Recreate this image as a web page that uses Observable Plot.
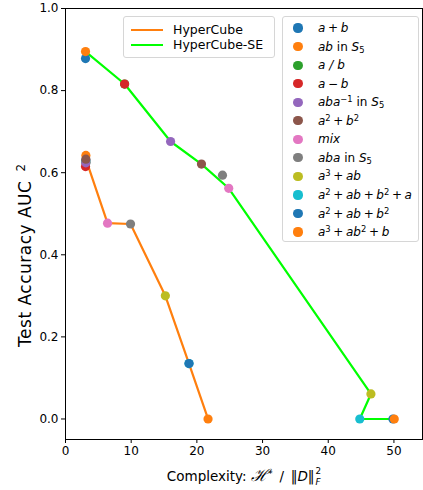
<!DOCTYPE html>
<html><head><meta charset="utf-8">
<script src="https://cdn.jsdelivr.net/npm/d3@7"></script>
<script src="https://cdn.jsdelivr.net/npm/@observablehq/plot@0.6"></script>
<style>
body{margin:0;background:#fff;font-family:"DejaVu Sans",sans-serif;color:#000}
#wrap{position:relative;width:423px;height:490px;overflow:hidden}
#wrap svg{position:absolute;left:0;top:0}
.leg{position:absolute;background:rgba(255,255,255,0.85);border:1px solid #d6d6d6;border-radius:3px;box-sizing:border-box}
.row{position:absolute;left:0;white-space:nowrap;font-size:12px;line-height:12px}
.sw{position:absolute}
.txt{position:absolute;transform:translateY(-50%)}
sup{font-size:70%;vertical-align:0.45em;line-height:0}
sub{font-size:70%;vertical-align:-0.25em;line-height:0}
.sp{display:inline-block;width:0.22em}
.lbl{position:absolute;white-space:nowrap;line-height:1.2}
.ss{display:inline-flex;flex-direction:column;vertical-align:middle;font-size:65%;line-height:1.15;gap:1px;margin-left:1px;position:relative;top:-0.1em}
</style>
</head><body>
<div id="wrap"></div>
<script>
// ---- data ----
const S = '<span class="sp"></span>';
const taskLabels = [
  `<i>a</i>${S}+${S}<i>b</i>`,
  `<i>ab</i> in <i>S</i><sub>5</sub>`,
  `<i>a</i>&#8196;<i>/</i>&#8196;<i>b</i>`,
  `<i>a</i>${S}−${S}<i>b</i>`,
  `<i>aba</i><sup>−1</sup> in <i>S</i><sub>5</sub>`,
  `<i>a</i><sup>2</sup>${S}+${S}<i>b</i><sup>2</sup>`,
  `<i>mix</i>`,
  `<i>aba</i> in <i>S</i><sub>5</sub>`,
  `<i>a</i><sup>3</sup>${S}+${S}<i>ab</i>`,
  `<i>a</i><sup>2</sup>${S}+${S}<i>ab</i>${S}+${S}<i>b</i><sup>2</sup>${S}+${S}<i>a</i>`,
  `<i>a</i><sup>2</sup>${S}+${S}<i>ab</i>${S}+${S}<i>b</i><sup>2</sup>`,
  `<i>a</i><sup>3</sup>${S}+${S}<i>ab</i><sup>2</sup>${S}+${S}<i>b</i>`
];
const taskColors = ["#1f77b4","#ff7f0e","#2ca02c","#d62728","#9467bd","#8c564b","#e377c2","#7f7f7f","#bcbd22","#17becf","#1f77b4","#ff7f0e"];

// HyperCube (complexity, AUC) per task
const hcX = [3.1, 3.1, 3.1, 3.05, 3.1, 3.1, 6.4, 9.9, 15.2, 18.8, 18.8, 21.7];
const hcY = [0.63, 0.642, 0.625, 0.615, 0.624, 0.633, 0.477, 0.475, 0.300, 0.135, 0.135, 0.0];
// HyperCube-SE
const seX = [3.05, 3.05, 9.0, 9.0, 16.0, 20.7, 24.85, 23.9, 46.5, 44.8, 49.85, 50.05];
const seY = [0.878, 0.895, 0.816, 0.816, 0.676, 0.621, 0.562, 0.594, 0.061, 0.0, 0.0, 0.0];
// order of tasks along each method's line
const hcLineOrder = [0,1,2,3,4,5,6,7,8,9,10,11];
const seLineOrder = [0,1,2,3,4,5,6,8,9,10,11];

const methods = ["HyperCube", "HyperCube-SE"];
const methodColors = ["#ff7f0e", "#00ff00"];

const xTicks = [0,10,20,30,40,50];
const yTicks = [0,0.2,0.4,0.6,0.8,1.0];

// ---- build tables ----
const pts = [];
taskLabels.forEach((t,i)=>{
  pts.push({task:i, method:0, x:hcX[i], y:hcY[i], c:taskColors[i]});
  pts.push({task:i, method:1, x:seX[i], y:seY[i], c:taskColors[i]});
});
const hcLine = hcLineOrder.map(i=>({x:hcX[i], y:hcY[i]}));
const seLine = seLineOrder.map(i=>({x:seX[i], y:seY[i]}));

const W=423, H=490;
const chart = Plot.plot({
  width: W, height: H,
  marginLeft: 65, marginRight: 1, marginTop: 8, marginBottom: 51,
  style: {fontFamily: "DejaVu Sans, sans-serif", fontSize: "12px", background: "white", color: "black"},
  x: {domain: [0, 54.35], label: null},
  y: {domain: [-0.05, 1.0], label: null},
  marks: [
    Plot.line(hcLine, {x:"x", y:"y", stroke: methodColors[0], strokeWidth: 2.2, curve:"linear"}),
    Plot.line(seLine, {x:"x", y:"y", stroke: methodColors[1], strokeWidth: 2.2, curve:"linear"}),
    Plot.dot(pts, {x:"x", y:"y", fill:"c", r:4.6, stroke:null}),
    Plot.frame({stroke:"black", strokeWidth:1}),
    Plot.axisX({ticks:xTicks, tickSize:4, tickPadding:3, tickFormat:d3.format("d"), label:null, fontSize:12}),
    Plot.axisY({ticks:yTicks, tickSize:4, tickPadding:3, tickFormat:d3.format(".1f"), label:null, fontSize:12})
  ]
});
const wrap = document.getElementById("wrap");
wrap.appendChild(chart);

// ---- method legend ----
const leg1 = document.createElement("div");
leg1.className = "leg";
Object.assign(leg1.style, {left:"123px", top:"16px", width:"152px", height:"42px"});
methods.forEach((m,i)=>{
  const cy = 13 + i*15;
  const sw = document.createElement("div");
  sw.className="sw";
  Object.assign(sw.style,{left:"7px", top:(cy-1)+"px", width:"32px", height:"2px", background:methodColors[i]});
  leg1.appendChild(sw);
  const t = document.createElement("div");
  t.className="row txt";
  t.style.left="49px"; t.style.top=cy+"px"; t.style.fontSize="12.5px"; t.style.lineHeight="14px";
  t.textContent = m;
  leg1.appendChild(t);
});
wrap.appendChild(leg1);

// ---- task legend ----
const leg2 = document.createElement("div");
leg2.className = "leg";
Object.assign(leg2.style, {left:"282px", top:"16px", width:"137px", height:"226px"});
taskLabels.forEach((lab,i)=>{
  const cy = 11 + i*18.55;
  const sw = document.createElement("div");
  sw.className="sw";
  Object.assign(sw.style,{left:(15-4.6)+"px", top:(cy-4.6)+"px", width:"9.2px", height:"9.2px", borderRadius:"50%", background:taskColors[i]});
  leg2.appendChild(sw);
  const t = document.createElement("div");
  t.className="row txt";
  t.style.left="35px"; t.style.top=cy+"px"; t.style.lineHeight="14px";
  t.innerHTML = lab;
  leg2.appendChild(t);
});
wrap.appendChild(leg2);

// ---- axis labels ----
const xl = document.createElement("div");
xl.className="lbl";
xl.style.fontSize = "13.5px";
xl.innerHTML = 'Complexity: <span style="font-family:\'DejaVu Serif\',serif;font-style:italic;font-size:122%">ℋ</span><sup>*</sup>&#8194;/&#8194;‖<i>D</i>‖<span class="ss"><span>2</span><span><i>F</i></span></span>';
wrap.appendChild(xl);
const xr = xl.getBoundingClientRect();
xl.style.left = (244 - xr.width/2)+"px";
xl.style.top = (477 - xr.height/2)+"px";

const yl = document.createElement("div");
yl.className="lbl";
yl.style.fontSize = "17px";
yl.style.letterSpacing = "0.5px";
yl.innerHTML = 'Test Accuracy AUC&#8194;<sup>2</sup>';
wrap.appendChild(yl);
const yr = yl.getBoundingClientRect();
yl.style.left = (25 - yr.width/2)+"px";
yl.style.top = (255 - yr.height/2)+"px";
yl.style.transform = "rotate(-90deg)";
</script>
</body></html>
